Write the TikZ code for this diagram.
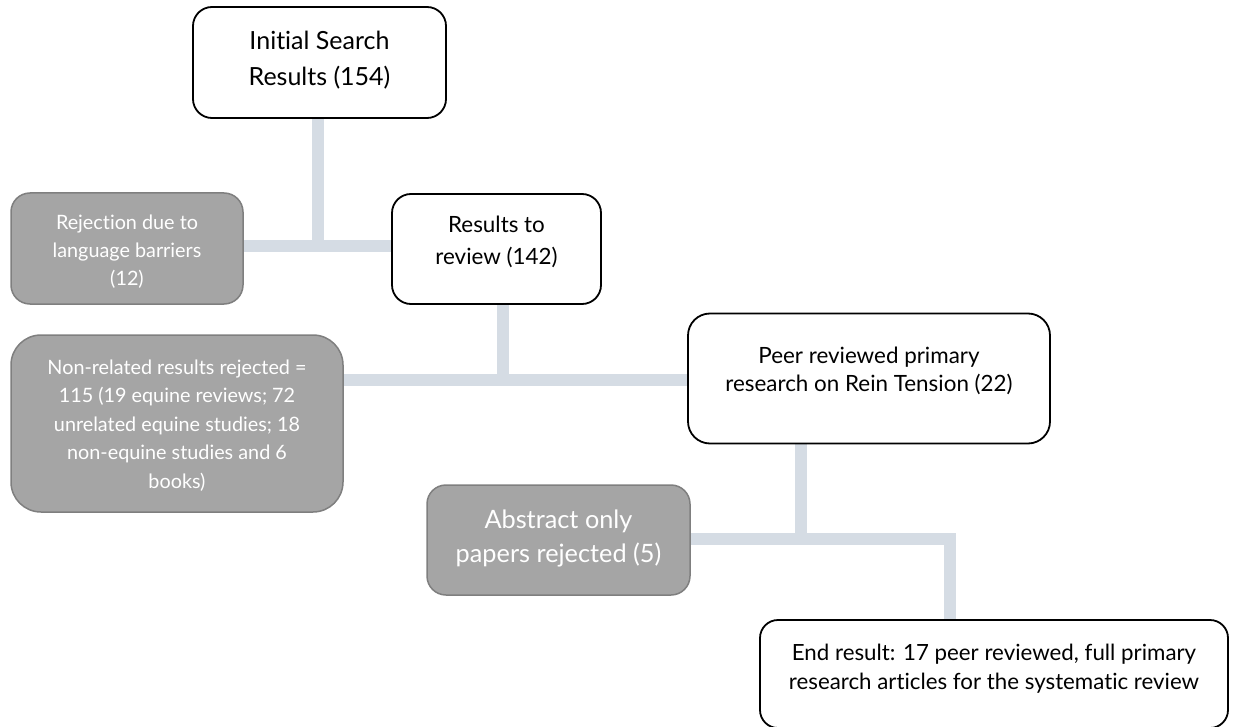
\documentclass[tikz,border=0pt]{standalone}
\usepackage{fontspec}
\setmainfont{Lato}[Ligatures=NoCommon]
\usetikzlibrary{backgrounds}
\definecolor{barcol}{HTML}{D5DCE4}
\definecolor{greyfill}{HTML}{A5A5A5}
\definecolor{greyline}{HTML}{7F7F7F}
\newcommand\boxtext[4]{{\fontsize{#2}{#3}\selectfont\raisebox{#1}[\height][\depth]{\begin{tabular}{@{}c@{}}#4\end{tabular}}}}
\tikzset{
  whitebox/.style={draw=black, line width=1.8pt, fill=white, rectangle, inner sep=0pt, text=black},
  greybox/.style={draw=greyline, line width=1.5pt, fill=greyfill, rectangle, inner sep=0pt, text=white},
  connector/.style={draw=barcol, line width=12pt, line cap=butt, line join=miter},
}
\begin{document}
\begin{tikzpicture}[x=1pt, y=-1pt]
\useasboundingbox (0,0) rectangle (1233,727);

\node[whitebox, minimum width=253pt, minimum height=111pt, rounded corners=19pt] (b1) at (319.5,62.5)
  {\boxtext{2.5pt}{25pt}{36pt}{Initial Search\\Results (154)}};
\node[whitebox, minimum width=209pt, minimum height=110pt, rounded corners=19pt] (b2) at (496.5,249)
  {\boxtext{6.5pt}{22.4pt}{32pt}{Results to\\review (142)}};
\node[greybox, minimum width=232pt, minimum height=111pt, rounded corners=19pt] (r1) at (127,248.5)
  {\boxtext{-3.5pt}{19.8pt}{28pt}{Rejection due to\\language barriers\\(12)}};
\node[whitebox, minimum width=362pt, minimum height=130pt, rounded corners=22pt] (b3) at (869,378.5)
  {\boxtext{7pt}{22.4pt}{28pt}{Peer reviewed primary\\research on Rein Tension (22)}};
\node[greybox, minimum width=332pt, minimum height=177pt, rounded corners=30pt] (r2) at (177,423.5)
  {\boxtext{-2pt}{19.8pt}{28.5pt}{Non-related results rejected =\\115 (19 equine reviews; 72\\unrelated equine studies; 18\\non-equine studies and 6\\books)}};
\node[greybox, minimum width=263pt, minimum height=110pt, rounded corners=19pt] (r3) at (558.5,540)
  {\boxtext{1pt}{25.3pt}{34pt}{Abstract only\\papers rejected (5)}};
\node[whitebox, minimum width=468pt, minimum height=108pt, rounded corners=18pt] (b4) at (994,674)
  {\boxtext{5pt}{22.3pt}{29pt}{End result: 17 peer reviewed, full primary\\research articles for the systematic review}};

\coordinate (j1) at (318,246);
\coordinate (j2) at (503,380);
\coordinate (j3) at (801,539);
\coordinate (k3) at (950,539);

\begin{scope}[on background layer]
  \draw[connector] (b1.south -| j1) -- (j1);
  \draw[connector] (r1.east |- j1) -- (b2.west |- j1);
  \draw[connector] (b2.south -| j2) -- (j2);
  \draw[connector] (r2.east |- j2) -- (b3.west |- j2);
  \draw[connector] (b3.south -| j3) -- (j3);
  \draw[connector] (r3.east |- j3) -- (k3) -- (b4.north -| k3);
\end{scope}
\end{tikzpicture}
\end{document}
